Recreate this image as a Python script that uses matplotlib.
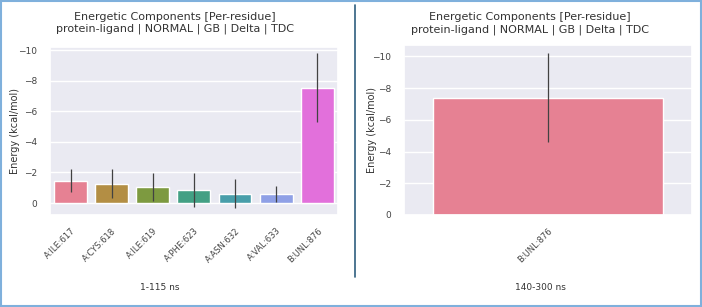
import numpy as np
import matplotlib
matplotlib.use("Agg")
import matplotlib.pyplot as plt
import seaborn as sns
from matplotlib.lines import Line2D
from matplotlib.patches import Rectangle

# data (energies in kcal/mol)
res_left = ["A:ILE:617", "A:CYS:618", "A:ILE:619", "A:PHE:623",
            "A:ASN:632", "A:VAL:633", "B:UNL:876"]
energy_left = [-1.45, -1.25, -1.05, -0.85, -0.6, -0.6, -7.55]
err_left = [0.75, 0.95, 0.9, 1.1, 0.95, 0.5, 2.25]

res_right = ["B:UNL:876"]
energy_right = [-7.4]
err_right = [2.8]

title = "Energetic Components [Per-residue]\nprotein-ligand | NORMAL | GB | Delta | TDC"
ylab = "Energy (kcal/mol)"

sns.set_theme(style="darkgrid")
plt.rcParams["font.family"] = ["DejaVu Sans"]

fig = plt.figure(figsize=(7.02, 3.07), dpi=100)
fig.patch.set_facecolor("white")

ax1 = fig.add_axes([0.0712, 0.2997, 0.410, 0.547])
ax2 = fig.add_axes([0.5755, 0.2997, 0.410, 0.553])

pal = [sns.desaturate(c, 0.75) for c in sns.color_palette("husl", 7)]

def draw(ax, names, vals, errs, cols, ylim, title_x, pad, ylab_x):
    x = np.arange(len(names))
    ax.bar(x, vals, width=0.8, color=cols, zorder=2)
    ax.errorbar(x, vals, yerr=errs, fmt="none", ecolor="#424242",
                elinewidth=0.9, zorder=3)
    ax.set_xlim(-0.5, len(names) - 0.5)
    ax.set_ylim(*ylim)
    ax.set_yticks([0, -2, -4, -6, -8, -10])
    ax.set_xticks(x)
    ax.set_xticklabels(names, rotation=45, ha="right", rotation_mode="anchor",
                       fontsize=6)
    ax.tick_params(axis="y", labelsize=6.5, pad=3)
    ax.tick_params(axis="x", pad=2)
    ax.set_ylabel(ylab, fontsize=7, color="#333333")
    ax.yaxis.set_label_coords(ylab_x, 0.5)
    ax.set_title(title, fontsize=8, color="#333333", pad=pad, x=title_x)
    ax.grid(axis="x", visible=False)
    for lbl in ax.get_xticklabels() + ax.get_yticklabels():
        lbl.set_color("#444444")

draw(ax1, res_left, energy_left, err_left, pal, (0.78, -10.2), 0.434, 11, -0.104)
draw(ax2, res_right, energy_right, err_right, [pal[0]], (0.0, -10.7), 0.4375, 9.5, -0.094)

fig.text(160 / 702, 1 - 288 / 307, "1-115 ns", fontsize=6.5, ha="center",
         va="center", color="#333333")
fig.text(540 / 702, 1 - 288 / 307, "140-300 ns", fontsize=6.5, ha="center",
         va="center", color="#333333")

# divider between panels and frame around the picture
fig.add_artist(Line2D([355 / 702, 355 / 702], [1 - 5 / 307, 1 - 277 / 307],
                      color="#2f5f7f", lw=1.2))
fig.add_artist(Rectangle((0.002, 0.004), 0.996, 0.992, fill=False,
                         edgecolor="#7fb0dc", lw=1.5))

fig.savefig("out.png", dpi=100)
